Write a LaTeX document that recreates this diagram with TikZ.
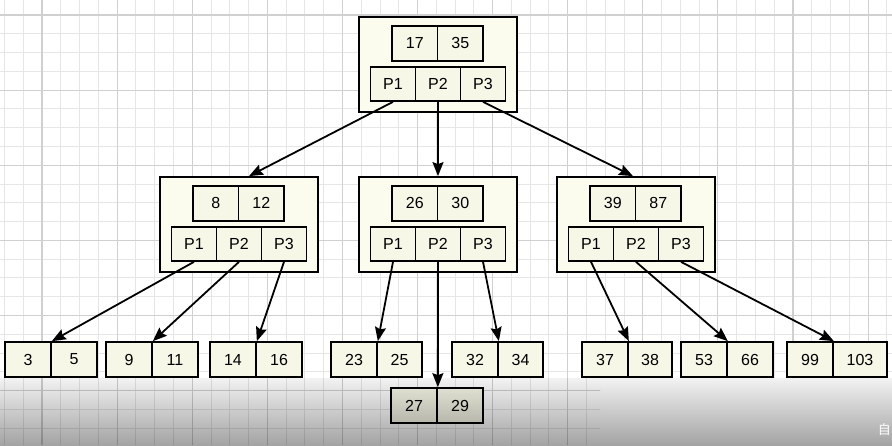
\documentclass[tikz,border=0pt]{standalone}
\usepackage{fontspec}
\setmainfont{Liberation Sans}
\newfontfamily\cjkfont{Noto Sans CJK SC}
\usetikzlibrary{arrows.meta, calc}
\definecolor{boxfill}{RGB}{252,252,238}
\definecolor{cellfill}{RGB}{247,247,232}
\definecolor{gridminor}{RGB}{230,230,230}
\definecolor{gridmajor}{RGB}{208,208,208}
\tikzset{
  outerbox/.style={
    draw, line width=1.8pt, fill=boxfill,
    minimum width=158pt, minimum height=95pt, inner sep=0pt
  },
  cell/.style={
    draw, line width=1.7pt, fill=cellfill, minimum width=45.5pt,
    minimum height=35pt, inner sep=0pt, font=\fontsize{16}{18}\selectfont
  },
  ptr/.style={cell, minimum width=45pt, minimum height=34pt},
  link/.style={draw, line width=1.8pt, -{Stealth[length=14pt, width=11pt, inset=2pt]}},
  gridline/.style={draw=gridminor, line width=0.9pt},
  gridbold/.style={draw=gridmajor, line width=1.1pt},
}
% inner node: name, left x, top y, two keys
\newcommand{\treenode}[5]{
  \node[outerbox] (#1) at (#2+79,#3+47.5) {};
  \node[cell] (#1k1) at (#2+55.75,#3+26.25) {#4};
  \node[cell] (#1k2) at (#2+101.25,#3+26.25) {#5};
  \node[ptr] (#1p1) at (#2+34,#3+67) {P1};
  \node[ptr] (#1p2) at (#2+79,#3+67) {P2};
  \node[ptr] (#1p3) at (#2+124,#3+67) {P3};
}
% leaf: name, x of middle line, top y, two keys, width of right cell
\newcommand{\leafnode}[6]{
  \node[cell, minimum width=46pt] (#1a) at (#2-23,#3+17.5) {#4};
  \node[cell, minimum width=#6pt] (#1b) at (#2+#6/2,#3+17.5) {#5};
}

\begin{document}
\begin{tikzpicture}[x=1pt, y=-1pt]
  % paper and grid
  \fill[white] (0,0) rectangle (892,445);
  \useasboundingbox (0,0) rectangle (892,445);
  \begin{scope}
    \clip (0,0) -- (892,0) -- (892,378) -- (600,378) -- (600,445) -- (0,445) -- cycle;
    \foreach \i in {-2,...,45}
      \draw[gridline] ({42+18.775*\i},0) -- ({42+18.775*\i},445);
    \foreach \i in {0,...,23}
      \draw[gridline] (0,{15+18.775*\i}) -- (892,{15+18.775*\i});
    \foreach \i in {0,...,11}
      \draw[gridbold] ({42+75.1*\i},0) -- ({42+75.1*\i},445);
    \foreach \i in {0,...,5}
      \draw[gridbold] (0,{15+75.1*\i}) -- (892,{15+75.1*\i});
  \end{scope}

  % root and second level
  \treenode{root}{359}{17}{17}{35}
  \treenode{lft}{160}{177}{8}{12}
  \treenode{mid}{359}{177}{26}{30}
  \treenode{rgt}{557}{177}{39}{87}

  % leaves
  \leafnode{la}{51}{342}{3}{5}{46}
  \leafnode{lb}{152}{342}{9}{11}{46}
  \leafnode{lc}{256}{342}{14}{16}{46}
  \leafnode{ld}{377}{342}{23}{25}{45}
  \leafnode{le}{437}{388}{27}{29}{46}
  \leafnode{lf}{498}{342}{32}{34}{45}
  \leafnode{lg}{628}{342}{37}{38}{44}
  \leafnode{lh}{727}{342}{53}{66}{46}
  \leafnode{li}{833}{342}{99}{103}{54}

  % pointers
  \draw[link] (rootp1.south) -- ([xshift=10pt]lft.north);
  \draw[link] (rootp2.south) -- (mid.north);
  \draw[link] (rootp3.south) -- ([xshift=-3pt]rgt.north);
  \draw[link] (lftp1.south) -- (laa.north east);
  \draw[link] (lftp2.south) -- (lba.north east);
  \draw[link] (lftp3.south) -- (lca.north east);
  \draw[link] (midp1.south) -- (lda.north east);
  \draw[link] (midp2.south) -- (lea.north east);
  \draw[link] (midp3.south) -- (lfa.north east);
  \draw[link] (rgtp1.south) -- (lga.north east);
  \draw[link] (rgtp2.south) -- (lha.north east);
  \draw[link] (rgtp3.south) -- (lia.north east);

  % screen shade at the bottom
  \shade[top color=black!5, bottom color=black!36, blend mode=multiply]
    (0,378) rectangle (892,445);
  \node[text=white, anchor=east, inner sep=0pt,
    font=\cjkfont\fontsize{13}{13}\selectfont] (mark) at (891,430) {自};
\end{tikzpicture}
\end{document}
